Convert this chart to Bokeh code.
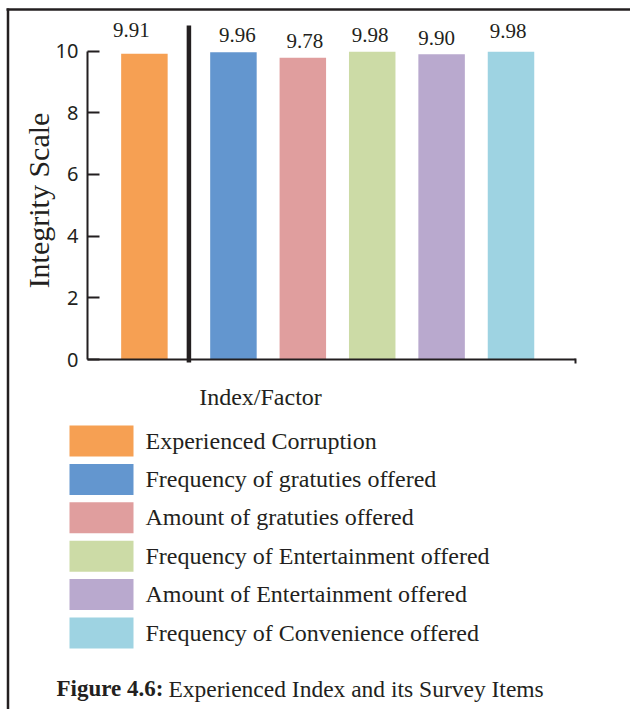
from bokeh.plotting import figure
from bokeh.models import ColumnDataSource, Range1d, FixedTicker
from bokeh.embed import file_html
from bokeh.resources import INLINE
from bokeh.core.properties import value

# ---- data -------------------------------------------------------------
factors = [
    "Experienced Corruption",
    "Frequency of gratuties offered",
    "Amount of gratuties offered",
    "Frequency of Entertainment offered",
    "Amount of Entertainment offered",
    "Frequency of Convenience offered",
]
scores = [9.91, 9.96, 9.78, 9.98, 9.90, 9.98]
colors = ["#F6A053", "#6396CF", "#E09E9E", "#CCDBA6", "#B9A9CE", "#9ED3E2"]
y_ticks = [0, 2, 4, 6, 8, 10]

# ---- layout / styling -------------------------------------------------
INK = "#231f20"
SERIF = "Liberation Serif"
GAP = 0.283          # extra room between the index bar and its survey items
BAR_W = 0.67
label_dx = [-13, 4, 2, -2, -5, -3]      # small nudges of the value labels (px)
label_rise = [24, 17, 17, 17, 16, 21]   # height of the value labels above the bars (px)

# legend block, in page pixels
KEY_X, KEY_W, KEY_H = 69, 64, 31
KEY_TOP, KEY_STEP = 425, 38.4
TEXT_X, TEXT_DROP = 145, 15

xpos = [i + (GAP if i > 0 else 0) for i in range(len(factors))]
score_text = [f"{v:.2f}" for v in scores]

src = ColumnDataSource(dict(
    x=xpos, top=scores, color=colors, name=factors, label=score_text,
    dx=label_dx, dy=[-r for r in label_rise],
))

p = figure(
    width=630, height=709,
    x_range=Range1d(-0.82, 7.005), y_range=Range1d(0, 10.31),
    output_backend="svg", toolbar_location=None,
    min_border_left=87, min_border_right=0, min_border_top=41, min_border_bottom=350,
    outline_line_color=None, background_fill_color="white", border_fill_color="white",
)
p.grid.visible = False

# pixel-aligned helper ranges for frame decoration, legend and captions
p.extra_x_ranges = {"px": Range1d(87, 630)}
p.extra_y_ranges = {"px": Range1d(359, 41)}

# x axis: plain baseline
xa = p.xaxis[0]
xa.ticker = FixedTicker(ticks=[])
xa.bounds = (-0.82, xpos[-1] + 0.93)
xa.axis_line_width = 2
xa.axis_line_color = INK
xa.major_tick_line_color = None
xa.minor_tick_line_color = None

# y axis
ya = p.yaxis[0]
ya.ticker = FixedTicker(ticks=y_ticks)
ya.bounds = (0, 10)
ya.axis_line_width = 2
ya.axis_line_color = INK
ya.major_tick_in = 12
ya.major_tick_out = 0
ya.major_tick_line_width = 2
ya.major_tick_line_color = INK
ya.minor_tick_line_color = None
ya.major_label_standoff = 9
ya.major_label_text_font = "Noto Sans"
ya.major_label_text_font_size = "20px"
ya.major_label_text_color = INK
ya.axis_label = "Integrity Scale"
ya.axis_label_text_font = SERIF
ya.axis_label_text_font_size = "30px"
ya.axis_label_text_font_style = "normal"
ya.axis_label_text_color = INK
ya.axis_label_standoff = -2

# bars
p.vbar(x="x", top="top", bottom=0, width=BAR_W, fill_color="color",
       line_color=None, source=src)

# value labels
p.text(x="x", y="top", text="label", x_offset="dx", y_offset="dy",
       text_align="center", text_baseline="alphabetic",
       text_font=value(SERIF), text_font_size="21px", text_color=INK,
       source=src, level="overlay")

# divider between the index and its survey items
sep_x = (xpos[0] + xpos[1]) / 2
p.segment(x0=[sep_x], y0=[-0.1], x1=[sep_x], y1=[10.83], line_width=4.5,
          line_color=INK, level="overlay")

# frame rules (top and left) and the end mark of the baseline
p.segment(x0=[7.5, 6, 575], y0=[8, 9, 358], x1=[7.5, 630, 575], y1=[709, 9, 363],
          x_range_name="px", y_range_name="px",
          line_width=[2.5, 2.5, 2], line_color=INK, level="overlay")

# x axis title
p.text(x=[260], y=[396], text=["Index/Factor"], x_range_name="px", y_range_name="px",
       text_align="center", text_baseline="alphabetic",
       text_font=value(SERIF), text_font_size="24px", text_color=INK, level="overlay")

# legend keys and entries
n = len(factors)
key_tops = [KEY_TOP + i * KEY_STEP for i in range(n)]
leg = ColumnDataSource(dict(
    left=[KEY_X] * n, right=[KEY_X + KEY_W] * n,
    top=key_tops, bottom=[t + KEY_H for t in key_tops],
    tx=[TEXT_X] * n, ty=[t + TEXT_DROP for t in key_tops],
    color=colors, name=factors,
))
p.quad(left="left", right="right", top="top", bottom="bottom", fill_color="color",
       line_color=None, source=leg, x_range_name="px", y_range_name="px", level="overlay")
p.text(x="tx", y="ty", text="name", source=leg, x_range_name="px", y_range_name="px",
       text_baseline="alphabetic", text_font=value(SERIF), text_font_size="24px",
       text_color=INK, level="overlay")

# figure caption
p.text(x=[56], y=[688], text=["Figure 4.6:"], x_range_name="px", y_range_name="px",
       text_baseline="alphabetic", text_font=value(SERIF), text_font_style="bold",
       text_font_size="23px", text_color=INK, level="overlay")
p.text(x=[168], y=[688], text=["Experienced Index and its Survey Items"],
       x_range_name="px", y_range_name="px",
       text_baseline="alphabetic", text_font=value(SERIF),
       text_font_size="23.5px", text_color=INK, level="overlay")

open("out.html", "w").write(file_html(p, INLINE))
